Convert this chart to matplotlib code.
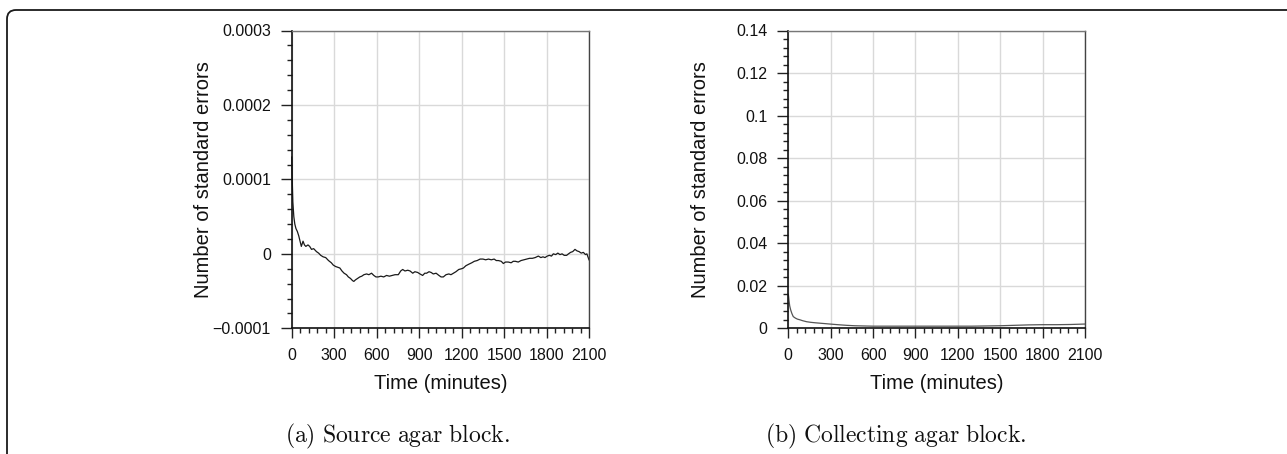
import numpy as np
import matplotlib
matplotlib.use("Agg")
import matplotlib.pyplot as plt
from matplotlib.patches import FancyBboxPatch
from matplotlib.transforms import IdentityTransform
from matplotlib.ticker import FixedLocator, FixedFormatter, MultipleLocator

# ---------------- data ----------------
time_a = [0, 3, 8, 15, 22, 30, 40, 50, 60, 68, 75, 80, 90, 100, 115, 127, 140, 155, 175, 190,
          205, 222, 240, 260, 280, 293, 310, 325, 340, 355, 370, 387, 400, 415, 430, 439, 450,
          465, 481, 495, 510, 529, 545, 564, 580, 595, 611, 630, 650, 670, 690, 710, 730, 753,
          770, 784, 800, 820, 836, 855, 870, 890, 906, 925, 940, 953, 970, 985, 1000, 1020,
          1040, 1055, 1071, 1090, 1110, 1125, 1142, 1160, 1180, 1200, 1213, 1230, 1250, 1272,
          1290, 1310, 1331, 1351, 1370, 1390, 1410, 1430, 1445, 1460, 1480, 1495, 1510, 1530,
          1550, 1565, 1580, 1600, 1620, 1640, 1660, 1680, 1700, 1720, 1742, 1760, 1775, 1789,
          1805, 1820, 1835, 1848, 1865, 1880, 1895, 1910, 1925, 1942, 1955, 1970, 1985, 2001,
          2015, 2030, 2045, 2060, 2075, 2085, 2096, 2100]
# values in units of 1e-5
err_a = [13, 10.5, 7.0, 5.0, 4.0, 3.4, 3.0, 2.4, 1.6, 1.0, 1.4, 1.7, 1.2, 1.0, 1.2, 1.0, 0.6,
         0.7, 0.3, 0.1, -0.2, -0.4, -0.5, -0.9, -1.2, -1.5, -1.7, -1.8, -1.9, -2.3, -2.6, -2.8,
         -3.1, -3.3, -3.6, -3.7, -3.5, -3.3, -3.1, -3.0, -2.8, -2.7, -2.8, -2.6, -2.9, -3.1,
         -3.1, -3.0, -3.1, -2.9, -3.0, -2.9, -2.8, -2.8, -2.3, -2.1, -2.3, -2.2, -2.3, -2.6,
         -2.4, -2.5, -2.7, -2.9, -2.6, -2.6, -2.4, -2.5, -2.7, -2.6, -2.9, -3.1, -3.1, -2.8,
         -2.7, -2.8, -2.6, -2.4, -2.1, -2.0, -1.9, -1.6, -1.4, -1.2, -1.0, -0.9, -0.7, -0.7,
         -0.8, -0.7, -0.8, -0.7, -0.9, -0.9, -1.0, -1.3, -1.1, -1.1, -1.2, -1.0, -1.0, -1.1,
         -0.9, -0.8, -0.7, -0.6, -0.6, -0.5, -0.3, -0.5, -0.4, -0.5, -0.3, -0.2, -0.3, 0.0,
         -0.1, 0.1, -0.1, 0.0, -0.2, -0.2, 0.0, 0.2, 0.3, 0.6, 0.4, 0.3, 0.1, 0.2, -0.1, 0.0,
         -0.6, -0.8]

time_b = [0, 2, 5, 10, 17, 25, 35, 50, 65, 82, 100, 129, 160, 190, 224, 260, 294, 350, 412,
          470, 530, 600, 700, 800, 900, 1000, 1100, 1200, 1300, 1400, 1500, 1600, 1700, 1800,
          1900, 2000, 2100]
# values in units of 1e-3
err_b = [16, 15, 13, 10.5, 8.6, 7.0, 5.5, 4.8, 4.3, 4.0, 3.6, 3.1, 2.8, 2.6, 2.4, 2.2, 2.0,
         1.7, 1.4, 1.2, 1.1, 1.0, 1.0, 1.0, 1.0, 1.0, 1.0, 1.0, 1.0, 1.1, 1.2, 1.4, 1.6, 1.7,
         1.7, 1.8, 2.0]

x_ticks = [0, 300, 600, 900, 1200, 1500, 1800, 2100]
yticks_a = [-0.0001, 0, 0.0001, 0.0002, 0.0003]
ylabels_a = ["\u22120.0001", "0", "0.0001", "0.0002", "0.0003"]
yticks_b = [0, 0.02, 0.04, 0.06, 0.08, 0.1, 0.12, 0.14]
ylabels_b = ["0", "0.02", "0.04", "0.06", "0.08", "0.1", "0.12", "0.14"]
caption_a = r"$\mathrm{(a)\ Source\ agar\ block.}$"
caption_b = r"$\mathrm{(b)\ Collecting\ agar\ block.}$"

# ---------------- figure ----------------
W, H = 1287, 454
plt.rcParams['font.family'] = ['Liberation Sans', 'DejaVu Sans']
plt.rcParams['mathtext.fontset'] = 'cm'
fig = plt.figure(figsize=(W / 100, H / 100), dpi=100)

frame = FancyBboxPatch((7, -60), 1400, H - 10 + 60, boxstyle="round,pad=0,rounding_size=9",
                       transform=IdentityTransform(), fill=False, edgecolor='#1a1a1a',
                       linewidth=1.3)
fig.patches.append(frame)

def px_axes(l, r, t, b):
    return [l / W, 1 - b / H, (r - l) / W, (b - t) / H]

ax_a = fig.add_axes(px_axes(291.7, 589.0, 30.5, 328.3))
ax_b = fig.add_axes(px_axes(788.3, 1085.0, 30.5, 328.3))

def style(ax, yticks, ylabels, yminor, ylim, lab_x):
    ax.set_xlim(0, 2100)
    ax.set_ylim(*ylim)
    ax.xaxis.set_major_locator(FixedLocator(x_ticks))
    ax.xaxis.set_minor_locator(MultipleLocator(60))
    ax.yaxis.set_major_locator(FixedLocator(yticks))
    ax.yaxis.set_major_formatter(FixedFormatter(ylabels))
    ax.yaxis.set_minor_locator(MultipleLocator(yminor))
    ax.grid(True, which='major', color='#d9d9d9', linewidth=1.0)
    ax.set_axisbelow(True)
    ax.tick_params(axis='both', which='major', direction='out', length=8, width=1.0,
                   color='#222222', labelsize=11.5, labelcolor='#111111', pad=7)
    ax.tick_params(axis='both', which='minor', direction='out', length=3.6, width=1.0,
                   color='#222222')
    ax.tick_params(top=False, right=False, which='both')
    ax.tick_params(axis='x', which='major', length=7.5)
    for s in ['left', 'bottom']:
        ax.spines[s].set_color('#111111')
        ax.spines[s].set_linewidth(1.2)
    ax.spines['top'].set_color('#777777')
    ax.spines['top'].set_linewidth(1.0)
    ax.spines['right'].set_color('#444444')
    ax.spines['right'].set_linewidth(1.0)
    ax.set_xlabel("Time (minutes)", fontsize=14.5, color='#111111')
    ax.set_ylabel("Number of standard errors", fontsize=14.5, color='#111111')
    ax.xaxis.set_label_coords(0.5, -0.152)
    ax.yaxis.set_label_coords(lab_x, 0.5)

style(ax_a, yticks_a, ylabels_a, 0.00002, (-0.0001, 0.0003), -0.265)
style(ax_b, yticks_b, ylabels_b, 0.004, (0, 0.14), -0.264)

ax_a.plot(time_a, np.array(err_a) * 1e-5, color='#1a1a1a', linewidth=0.9, clip_on=False)
ax_b.plot(time_b, np.array(err_b) * 1e-3, color='#555555', linewidth=0.9, clip_on=False)

fig.text(397 / W, 1 - 436 / H, caption_a, ha='center', va='center', fontsize=17,
         color='#111111')
fig.text(896 / W, 1 - 436 / H, caption_b, ha='center', va='center', fontsize=17,
         color='#111111')

fig.savefig("out.png", dpi=100)
